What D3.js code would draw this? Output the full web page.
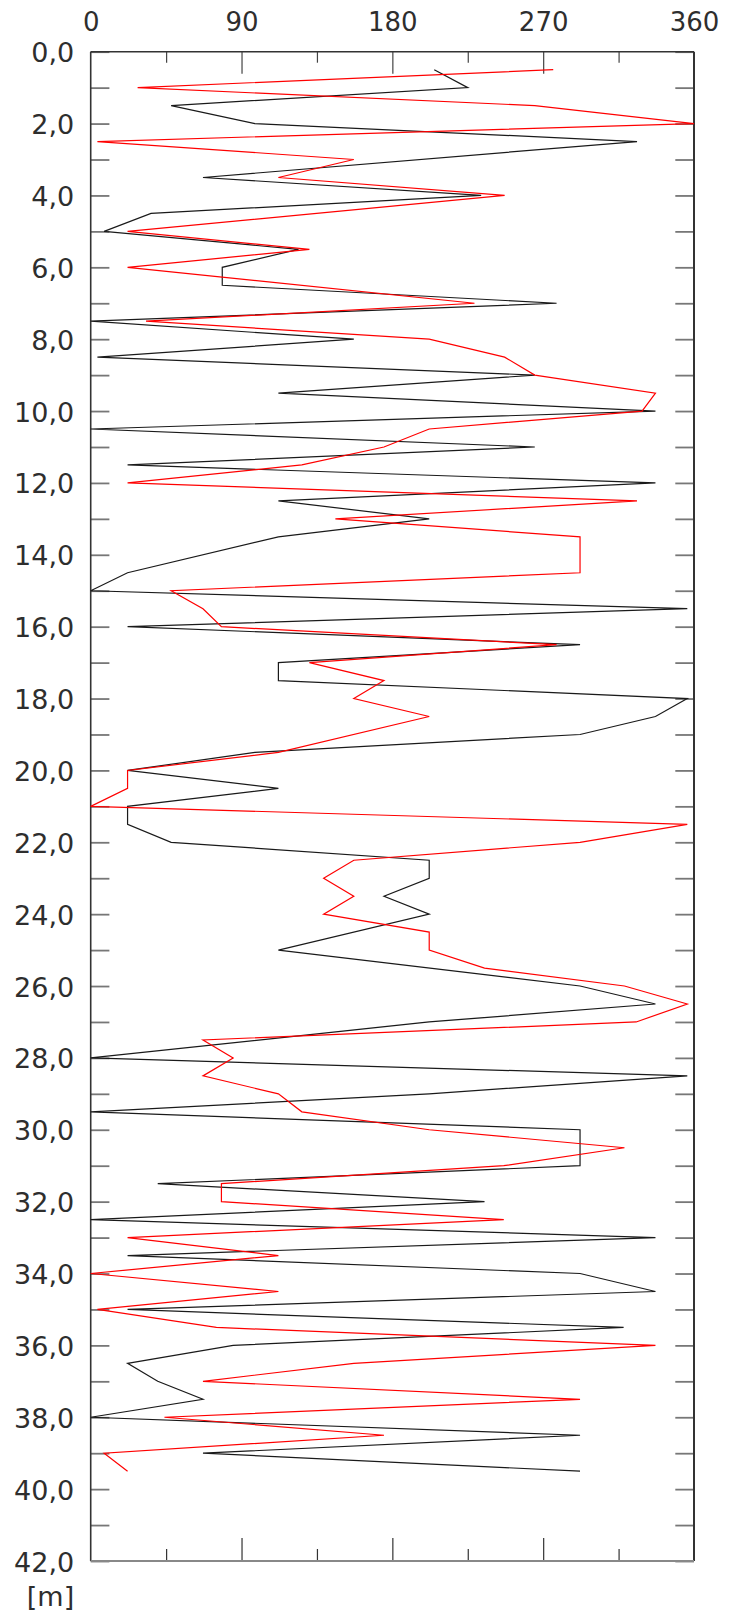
<!DOCTYPE html>
<html>
<head>
<meta charset="utf-8">
<script src="https://cdn.jsdelivr.net/npm/d3@7/dist/d3.min.js"></script>
<style>
  html, body { margin: 0; padding: 0; background: #fff; }
  svg { display: block; }
  text { font-family: "DejaVu Sans", Verdana, sans-serif; fill: #2e2e2e; }
</style>
</head>
<body>
<svg id="chart" width="737" height="1616"></svg>
<script>
// ---- data ----
const blackDepths = [0.5,1.0,1.5,2.0,2.5,3.5,4.0,4.5,5.0,5.5,6.0,6.5,7.0,7.5,8.0,8.5,9.0,9.5,10.0,10.5,11.0,11.5,12.0,12.5,13.0,13.5,14.5,15.0,15.5,16.0,16.5,17.0,17.5,18.0,18.5,19.0,19.5,20.0,20.5,21.0,21.5,22.0,22.5,23.0,23.5,24.0,25.0,26.0,26.5,27.0,28.0,28.5,29.0,29.5,30.0,31.0,31.5,32.0,32.5,33.0,33.5,34.0,34.5,35.0,35.5,36.0,36.5,37.0,37.5,38.0,38.5,39.0,39.5];
const blackValues = [205,225,48,98,326,67,233,36,8,124,78.5,78.5,278,0,157,4,265,112,337,0,265,22,337,112,202,112,22,0,356,22,292,112,112,356,337,292,98,22,112,22,22,48,202,202,175,202,112,292,337,202,0,356,202,0,292,292,40,235,0,337,22,292,337,22,318,85,22,40,67,0,292,67,292];

const redDepths = [0.5,1.0,1.5,2.0,2.5,3.0,3.5,4.0,5.0,5.5,6.0,7.0,7.5,8.0,8.5,9.0,9.5,10.0,10.5,11.0,11.5,12.0,12.5,13.0,13.5,14.5,15.0,15.5,16.0,16.5,17.0,17.5,18.0,18.5,19.5,20.0,20.5,21.0,21.5,22.0,22.5,23.0,23.5,24.0,24.5,25.0,25.5,26.0,26.5,27.0,27.5,28.0,28.5,29.0,29.5,30.0,30.5,31.0,31.5,32.0,32.5,33.0,33.5,34.0,34.5,35.0,35.5,36.0,36.5,37.0,37.5,38.0,38.5,39.0,39.5];
const redValues = [276,28,265,360,4,157,112,247,22,130.5,22,229,33,202,247,265,337,329,202,175,126,22,326,146,292,292,48,67,78,278,130.5,175,157,202,112,22,22,0,356,292,157,139,157,139,202,202,235,318.5,356,325.5,67,85,67,112,126,202,318.5,246.5,78,78,246.5,22,112,0,112,4,75,337,157,67,292,44,175,8,22];

const xLabelTicks = [0, 90, 180, 270, 360];
const xMajorTicks = [90, 180, 270];
const xMinorTicks = [45, 135, 225, 315];
const yLabelTicks = d3.range(0, 43, 2);
const yTicks = d3.range(0, 43, 1);
const unitLabel = "[m]";

// ---- layout ----
const X0 = 90.7, X1 = 694, Y0 = 51.7, Y1 = 1561;
const svg = d3.select("#chart");
const x = d3.scaleLinear().domain([0, 360]).range([X0, X1]);
const y = d3.scaleLinear().domain([0, 42]).range([Y0, Y1]);
const FONT = '"DejaVu Sans", Verdana, sans-serif';
const TXT = "#2e2e2e";

// left / right ticks (inside)
svg.append("g").attr("transform", `translate(${X0},0)`)
  .call(d3.axisLeft(y).tickValues(yTicks).tickSize(-18.7).tickFormat(""))
  .call(g => { g.select(".domain").remove(); g.selectAll("line").attr("stroke", "#777").attr("stroke-width", 1.8); });
svg.append("g").attr("transform", `translate(${X1},0)`)
  .call(d3.axisRight(y).tickValues(yTicks).tickSize(-18.7).tickFormat(""))
  .call(g => { g.select(".domain").remove(); g.selectAll("line").attr("stroke", "#777").attr("stroke-width", 1.8); });

// left labels
svg.append("g").attr("transform", `translate(${X0},0)`)
  .call(d3.axisLeft(y).tickValues(yLabelTicks).tickSize(0).tickPadding(16.5)
    .tickFormat(d => d.toFixed(1).replace(".", ",")))
  .call(g => {
    g.select(".domain").remove();
    g.selectAll("text").attr("font-size", 27).attr("dy", "0.37em")
      .style("font-family", FONT).attr("fill", TXT);
  });

// top ticks
svg.append("g").attr("transform", `translate(0,${Y0})`)
  .call(d3.axisTop(x).tickValues(xMajorTicks).tickSize(-22).tickFormat(""))
  .call(g => { g.select(".domain").remove(); g.selectAll("line").attr("stroke", "#444").attr("stroke-width", 1.2); });
svg.append("g").attr("transform", `translate(0,${Y0})`)
  .call(d3.axisTop(x).tickValues(xMinorTicks).tickSize(-11).tickFormat(""))
  .call(g => { g.select(".domain").remove(); g.selectAll("line").attr("stroke", "#444").attr("stroke-width", 1.2); });
// bottom ticks
svg.append("g").attr("transform", `translate(0,${Y1})`)
  .call(d3.axisBottom(x).tickValues(xMajorTicks).tickSize(-23).tickFormat(""))
  .call(g => { g.select(".domain").remove(); g.selectAll("line").attr("stroke", "#333").attr("stroke-width", 1.2); });
svg.append("g").attr("transform", `translate(0,${Y1})`)
  .call(d3.axisBottom(x).tickValues(xMinorTicks).tickSize(-12).tickFormat(""))
  .call(g => { g.select(".domain").remove(); g.selectAll("line").attr("stroke", "#333").attr("stroke-width", 1.2); });

// top labels
svg.append("g").attr("transform", `translate(0,${Y0})`)
  .call(d3.axisTop(x).tickValues(xLabelTicks).tickSize(0).tickPadding(21))
  .call(g => {
    g.select(".domain").remove();
    g.selectAll("text").attr("font-size", 26)
      .style("font-family", FONT).attr("fill", TXT);
  });

// frame
svg.append("line").attr("x1", X0).attr("x2", X1).attr("y1", Y0).attr("y2", Y0).attr("stroke", "#333").attr("stroke-width", 1.5);
svg.append("line").attr("x1", X0).attr("x2", X0).attr("y1", Y0).attr("y2", Y1).attr("stroke", "#333").attr("stroke-width", 1.6);
svg.append("line").attr("x1", X1).attr("x2", X1).attr("y1", Y0).attr("y2", Y1).attr("stroke", "#333").attr("stroke-width", 2);
svg.append("line").attr("x1", X0).attr("x2", X1).attr("y1", Y1).attr("y2", Y1).attr("stroke", "#888").attr("stroke-width", 2.2);

// unit label
svg.append("text").attr("x", X0 - 16.5).attr("y", 1606).attr("text-anchor", "end")
  .attr("font-size", 27).attr("fill", TXT).text(unitLabel);

// series
const line = d3.line().x(d => x(d.v)).y(d => y(d.d));
const black = blackDepths.map((d, i) => ({ d, v: blackValues[i] }));
const red = redDepths.map((d, i) => ({ d, v: redValues[i] }));
svg.append("path").datum(black).attr("d", line).attr("fill", "none")
  .attr("stroke", "#1a1a1a").attr("stroke-width", 1.2).attr("stroke-linejoin", "miter");
svg.append("path").datum(red).attr("d", line).attr("fill", "none")
  .attr("stroke", "#ff0000").attr("stroke-width", 1.2).attr("stroke-linejoin", "miter");
</script>
</body>
</html>
